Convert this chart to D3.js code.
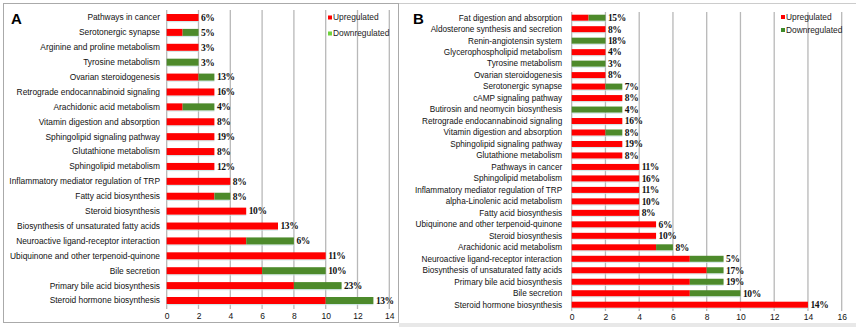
<!DOCTYPE html>
<html><head><meta charset="utf-8">
<script src="https://cdn.jsdelivr.net/npm/d3@7"></script>
<style>body{margin:0;background:#fff}svg{display:block}</style>
</head><body>
<svg id="c" width="856" height="327"></svg>
<script>
const catsA = ["Pathways in cancer","Serotonergic synapse","Arginine and proline metabolism","Tyrosine metabolism","Ovarian steroidogenesis","Retrograde endocannabinoid signaling","Arachidonic acid metabolism","Vitamin digestion and absorption","Sphingolipid signaling pathway","Glutathione metabolism","Sphingolipid metabolism","Inflammatory mediator regulation of TRP","Fatty acid biosynthesis","Steroid biosynthesis","Biosynthesis of unsaturated fatty acids","Neuroactive ligand-receptor interaction","Ubiquinone and other terpenoid-quinone","Bile secretion","Primary bile acid biosynthesis","Steroid hormone biosynthesis"];
const upA   = [2,1,2,0,2,3,1,3,3,3,3,4,3,5,7,5,10,6,8,10];
const downA = [0,1,0,2,1,0,2,0,0,0,0,0,1,0,0,3,0,4,3,3];
const pctA  = ["6%","5%","3%","3%","13%","16%","4%","8%","19%","8%","12%","8%","8%","10%","13%","6%","11%","10%","23%","13%"];
const ticksA = [0,2,4,6,8,10,12,14];

const catsB = ["Fat digestion and absorption","Aldosterone synthesis and secretion","Renin-angiotensin system","Glycerophospholipid metabolism","Tyrosine metabolism","Ovarian steroidogenesis","Serotonergic synapse","cAMP signaling pathway","Butirosin and neomycin biosynthesis","Retrograde endocannabinoid signaling","Vitamin digestion and absorption","Sphingolipid signaling pathway","Glutathione metabolism","Pathways in cancer","Sphingolipid metabolism","Inflammatory mediator regulation of TRP","alpha-Linolenic acid metabolism","Fatty acid biosynthesis","Ubiquinone and other terpenoid-quinone","Steroid biosynthesis","Arachidonic acid metabolism","Neuroactive ligand-receptor interaction","Biosynthesis of unsaturated fatty acids","Primary bile acid biosynthesis","Bile secretion","Steroid hormone biosynthesis"];
const upB   = [1,2,0,2,0,2,2,3,0,3,2,3,3,4,4,4,4,4,5,5,5,7,8,7,7,14];
const downB = [1,0,2,0,2,0,1,0,3,0,1,0,0,0,0,0,0,0,0,0,1,2,1,2,3,0];
const pctB  = ["15%","8%","18%","4%","3%","8%","7%","8%","4%","16%","8%","19%","8%","11%","16%","11%","10%","8%","6%","10%","8%","5%","17%","19%","10%","14%"];
const ticksB = [0,2,4,6,8,10,12,14,16];

const seriesNames = ["Upregulated","Downregulated"];
const RED = "#ff0000", GREEN = "#4d8a2b";

const svg = d3.select("#c");
// panel frames
svg.append("rect").attr("x",3.5).attr("y",3.5).attr("width",395).attr("height",319).attr("fill","none").attr("stroke","#aaa");
svg.append("line").attr("x1",399).attr("x2",856).attr("y1",3.5).attr("y2",3.5).attr("stroke","#ccc");
svg.append("rect").attr("x",399).attr("y",323).attr("width",457).attr("height",4).attr("fill","#e8e8e8");

function panel(cfg){
  const {cats, up, down, pct, ticks, x0, x1, y0, y1, gTop, gBot, axisY, barH, letter, lx, ly, legX, legY, legDy, labelFs, labelGap, legGreen} = cfg;
  const x = d3.scaleLinear().domain([ticks[0], ticks[ticks.length-1]]).range([x0, x1]);
  const y = d3.scalePoint().domain(cats).range([y0, y1]);
  const g = svg.append("g");
  g.selectAll(".grid").data(ticks).join("line")
    .attr("x1",d=>x(d)).attr("x2",d=>x(d)).attr("y1",gTop).attr("y2",gBot)
    .attr("stroke", "#b8b8b8").attr("stroke-width",1.3);
  g.selectAll(".cat").data(cats).join("text")
    .attr("x", x0-labelGap).attr("y", d=>y(d)).attr("dy","0.35em")
    .attr("text-anchor","end").attr("font-family","Liberation Sans, Arial, sans-serif")
    .attr("font-size", labelFs).attr("fill","#111").text(d=>d);
  const rows = cats.map((c,i)=>({c, u:up[i], d:down[i], p:pct[i]}));
  g.selectAll(".sh").data(rows).join("rect")
    .attr("x", x(0)).attr("y", d=>y(d.c)+barH/2).attr("height", 1.2)
    .attr("width", d=>x(d.u+d.d)-x(0)).attr("fill","#c9e3e3").attr("opacity",0.8);
  g.selectAll(".up").data(rows).join("rect")
    .attr("x", x(0)).attr("y", d=>y(d.c)-barH/2).attr("height", barH)
    .attr("width", d=>x(d.u)-x(0)).attr("fill", RED);
  g.selectAll(".dn").data(rows).join("rect")
    .attr("x", d=>x(d.u)).attr("y", d=>y(d.c)-barH/2).attr("height", barH)
    .attr("width", d=>x(d.u+d.d)-x(d.u)).attr("fill", GREEN);
  g.selectAll(".pct").data(rows).join("text")
    .attr("x", d=>x(d.u+d.d)+2.5).attr("y", d=>y(d.c)).attr("dy","0.35em")
    .attr("font-family","Liberation Serif, Times New Roman, serif").attr("font-weight","bold")
    .attr("font-size", 9.5).attr("letter-spacing",-0.4).attr("fill","#111").text(d=>d.p);
  const ax = g.append("g").attr("transform",`translate(0,${axisY})`)
    .call(d3.axisBottom(x).tickValues(ticks).tickSize(0).tickPadding(0));
  ax.select(".domain").remove();
  ax.selectAll("text").attr("font-family","Liberation Sans, Arial, sans-serif").attr("font-size",8.5).attr("fill","#111");
  svg.append("text").attr("x",lx).attr("y",ly).attr("font-family","Liberation Sans, Arial, sans-serif")
    .attr("font-weight","bold").attr("font-size",15).text(letter);
  const cols = [RED, legGreen];
  const lg = svg.append("g");
  lg.selectAll("rect").data(seriesNames).join("rect")
    .attr("x", legX).attr("y",(d,i)=>legY+i*legDy-2).attr("width",4).attr("height",4).attr("fill",(d,i)=>cols[i]);
  lg.selectAll("text").data(seriesNames).join("text")
    .attr("x", legX+5).attr("y",(d,i)=>legY+i*legDy).attr("dy","0.35em")
    .attr("font-family","Liberation Sans, Arial, sans-serif").attr("font-size",8.4).attr("fill","#222").text(d=>d);
}

panel({cats:catsA, up:upA, down:downA, pct:pctA, ticks:ticksA, x0:166.7, x1:389.3, y0:17.5, y1:300.5,
  gTop:10, gBot:309, axisY:313, barH:7, letter:"A", lx:11, ly:24, legX:328, legY:17.5, legDy:16, labelFs:8.4, labelGap:6.7, legGreen:"#6fd23c"});
panel({cats:catsB, up:upB, down:downB, pct:pctB, ticks:ticksB, x0:571.7, x1:841.7, y0:17.7, y1:304.7,
  gTop:12, gBot:311, axisY:314, barH:6, letter:"B", lx:413, ly:24, legX:781, legY:17, legDy:13, labelFs:8.2, labelGap:9.5, legGreen:"#3f8a2a"});
</script>
</body></html>
